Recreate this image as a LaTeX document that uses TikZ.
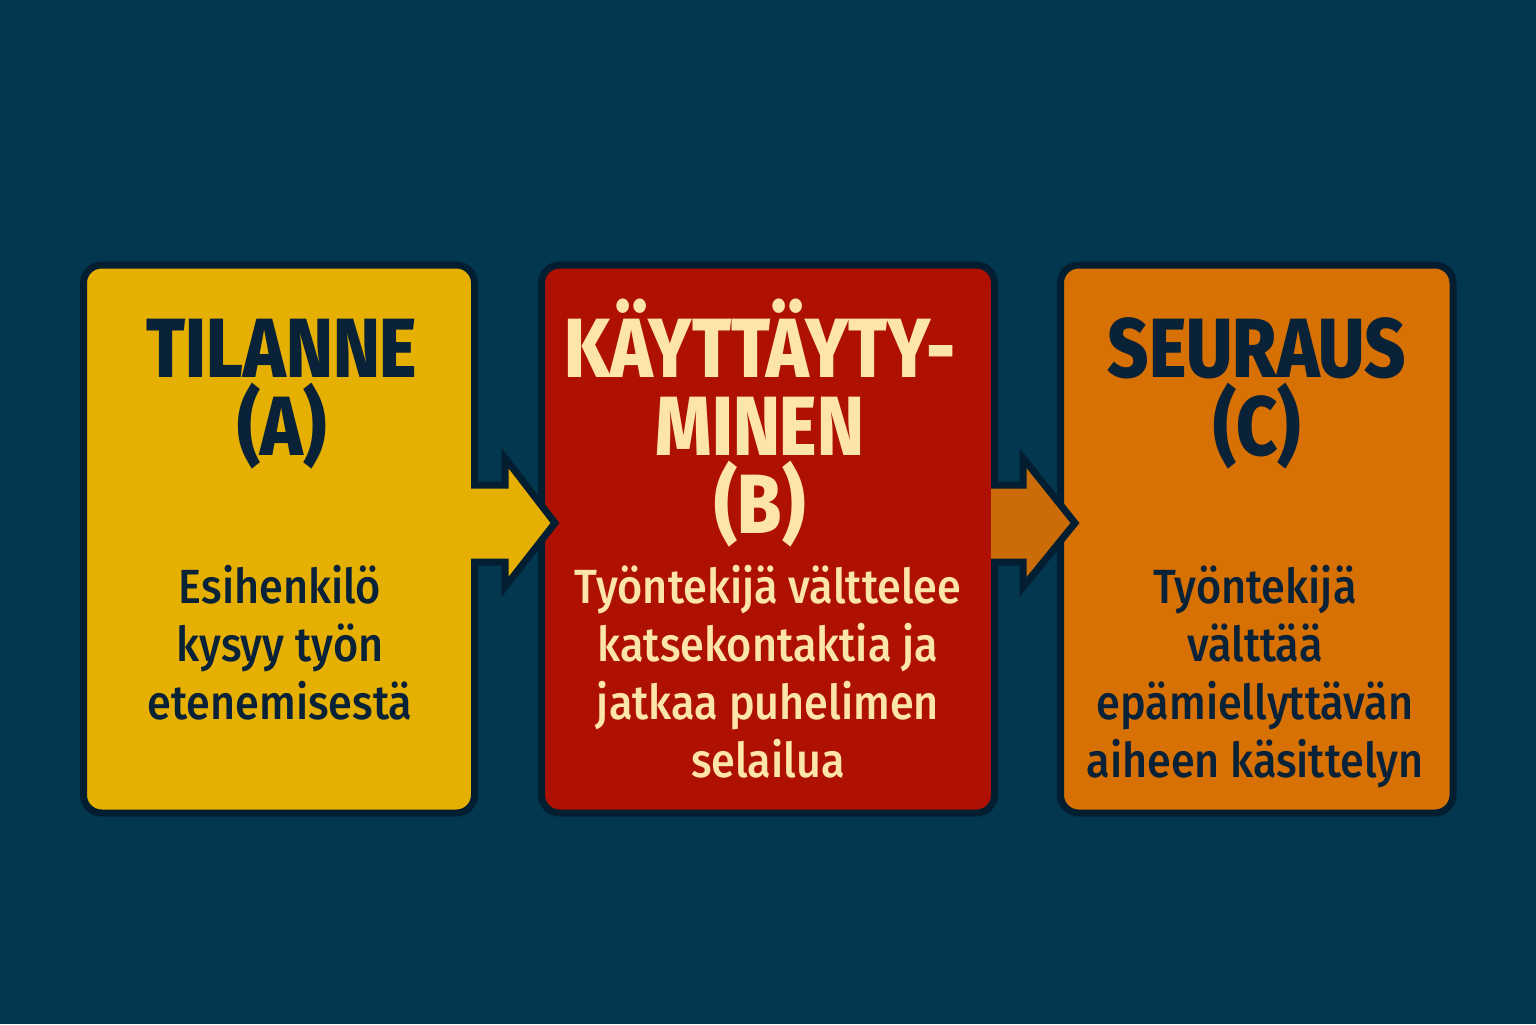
\documentclass[tikz,border=0pt]{standalone}
\usepackage{fontspec}
\setmainfont{Fira Sans}
\newfontfamily\headfont{Fira Sans ExtraBold}[FakeStretch=0.85]
\newfontfamily\bodyfont{Fira Sans Medium}[FakeStretch=0.9]
\usetikzlibrary{calc}
\definecolor{bgnavy}{RGB}{3,54,79}
\definecolor{edgenavy}{RGB}{2,30,48}
\definecolor{inknavy}{RGB}{10,34,56}
\definecolor{fillA}{RGB}{230,176,2}
\definecolor{fillB}{RGB}{174,17,3}
\definecolor{fillC}{RGB}{216,113,4}
\definecolor{shaftC}{RGB}{204,108,8}
\definecolor{cream}{RGB}{252,228,170}
\begin{document}
\begin{tikzpicture}[x=0.5pt,y=-0.5pt,
    abcbox/.style={draw=edgenavy,line width=3.5pt,rounded corners=9pt,
      inner sep=0pt,outer sep=0pt,minimum height=274pt},
    headtext/.style={font=\headfont\fontsize{42}{39}\selectfont,align=center,
      inner sep=0pt,anchor=base},
    bodytext/.style={font=\bodyfont\fontsize{24}{29}\selectfont,align=center,
      inner sep=0pt,anchor=base},
    arrowedge/.style={draw=edgenavy,line width=3.5pt,line join=miter}]
    % background
    \fill[bgnavy] (0,0) rectangle (1536,1024);

    % the three boxes A, B, C
    \node[abcbox,fill=fillA,minimum width=195.5pt] (sit) at (279,539) {};
    \node[abcbox,fill=fillB,minimum width=226.5pt] (beh) at (768,539) {};
    \node[abcbox,fill=fillC,minimum width=196.25pt] (con) at (1256.75,539) {};

    % block arrow A -> B
    \fill[fillA] ($(sit.east)+(-3.5,-54)$) -- ++(34,0) -- ++(0,-27)
      -- ($(beh.west)+(13.5,-16)$) -- ($(sit.east)+(30.5,48)$) -- ++(0,-25) -- ++(-34,0) -- cycle;
    \draw[arrowedge] ($(sit.east)+(-3.5,-54)$) -- ++(34,0) -- ++(0,-27)
      -- ($(beh.west)+(13.5,-16)$) -- ($(sit.east)+(30.5,48)$) -- ++(0,-25) -- ++(-34,0);

    % block arrow B -> C
    \fill[shaftC] ($(beh.east)+(-3.5,-54)$) -- ++(32,0) -- ++(0,-27)
      -- ($(con.west)+(14.5,-16)$) -- ($(beh.east)+(28.5,48)$) -- ++(0,-25) -- ++(-32,0) -- cycle;
    \draw[arrowedge] ($(beh.east)+(-3.5,-54)$) -- ++(32,0) -- ++(0,-27)
      -- ($(con.west)+(14.5,-16)$) -- ($(beh.east)+(28.5,48)$) -- ++(0,-25) -- ++(-32,0);

    % headings (anchored on the baseline of their last line)
    \node[headtext,text=inknavy] (sithead) at (282,455) {TILANNE\\(A)};
    \node[headtext,text=cream]   (behhead) at (760,533) {KÄYTTÄYTY-\\MINEN\\(B)};
    \node[headtext,text=inknavy] (conhead) at (1257,455) {SEURAUS\\(C)};

    % descriptions
    \node[bodytext,text=inknavy] (sittext) at (280,719) {Esihenkilö\\kysyy työn\\etenemisestä};
    \node[bodytext,text=cream]   (behtext) at (768,777) {Työntekijä välttelee\\katsekontaktia ja\\jatkaa puhelimen\\selailua};
    \node[bodytext,text=inknavy] (context) at (1255,777) {Työntekijä\\välttää\\epämiellyttävän\\aiheen käsittelyn};
  \end{tikzpicture}
\end{document}
